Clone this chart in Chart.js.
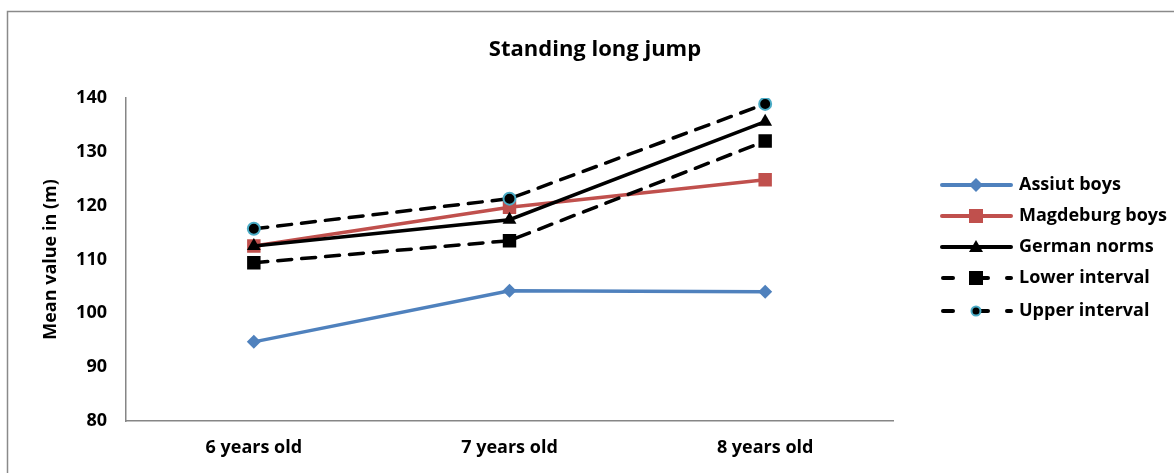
<!DOCTYPE html>
<html>
<head>
<meta charset="utf-8">
<script src="https://cdn.jsdelivr.net/npm/chart.js@4/dist/chart.umd.min.js"></script>
<style>
html,body{margin:0;padding:0;background:#fff;}
#wrap{position:relative;width:1174px;height:473px;}
</style>
</head>
<body>
<div id="wrap"><canvas id="c" width="1174" height="473"></canvas></div>
<script>
const categories = ['6 years old', '7 years old', '8 years old'];
const assiutBoys = [94.7, 104.2, 104.0];
const magdeburgBoys = [112.5, 119.7, 124.8];
const germanNorms = [112.5, 117.4, 135.6];
const lowerInterval = [109.4, 113.5, 132.0];
const upperInterval = [115.7, 121.3, 138.9];
const yTicks = [80, 90, 100, 110, 120, 130, 140];
const titleText = 'Standing long jump';
const yTitle = 'Mean value in (m)';

const FONT = '"Open Sans", "Noto Sans", sans-serif';

const datasets = [
  {label:'Assiut boys', data:assiutBoys, borderColor:'#4F81BD', backgroundColor:'#4F81BD',
   pointStyle:'rectRot', pointRadius:7, pointBorderWidth:0, borderWidth:3.5, pointBackgroundColor:'#4F81BD'},
  {label:'Magdeburg boys', data:magdeburgBoys, borderColor:'#C0504D', backgroundColor:'#C0504D',
   pointStyle:'rect', pointRadius:9.5, pointBorderWidth:0, borderWidth:3.5, pointBackgroundColor:'#C0504D'},
  {label:'German norms', data:germanNorms, borderColor:'#000', backgroundColor:'#000',
   pointStyle:'triangle', pointRadius:8, pointBorderWidth:0, borderWidth:3.5, pointBackgroundColor:'#000'},
  {label:'Lower interval', data:lowerInterval, borderColor:'#000', backgroundColor:'#000', borderDash:[14,10],
   pointStyle:'rect', pointRadius:9.5, pointBorderWidth:0, borderWidth:3.5, pointBackgroundColor:'#000'},
  {label:'Upper interval', data:upperInterval, borderColor:'#000', backgroundColor:'#000', borderDash:[14,10],
   pointStyle:'circle', pointRadius:6, pointBorderWidth:2, pointBorderColor:'#4BACC6', borderWidth:3.5, pointBackgroundColor:'#000'}
];
datasets.forEach((d, i) => { d.tension = 0; d.fill = false; d.borderCapStyle = 'round'; d.pointHoverRadius = d.pointRadius; d.order = datasets.length - i; });

const decor = {
  id:'decor',
  beforeDraw(chart){
    const ctx = chart.ctx;
    ctx.save();
    ctx.fillStyle = '#fff';
    ctx.fillRect(0,0,chart.width,chart.height);
    ctx.strokeStyle = '#8a8a8a';
    ctx.lineWidth = 1.5;
    ctx.strokeRect(7.5, 11.5, 1200, 500);
    ctx.restore();
  },
  afterDraw(chart){
    const ctx = chart.ctx;
    ctx.save();
    ctx.fillStyle = '#000';
    ctx.font = 'bold 22px ' + FONT;
    ctx.textAlign = 'center';
    ctx.textBaseline = 'middle';
    ctx.fillText(titleText, 595, 50);
    const ys = [185, 216, 247, 278, 311];
    datasets.forEach((ds, i) => {
      const y = ys[i];
      const x0 = 942, x1 = 1011, xm = 976;
      ctx.save();
      ctx.strokeStyle = ds.borderColor;
      ctx.lineWidth = 4;
      ctx.lineCap = 'round';
      if (ds.borderDash) {
        ctx.beginPath(); ctx.moveTo(943, y); ctx.lineTo(953, y); ctx.stroke();
        ctx.beginPath(); ctx.moveTo(980, y); ctx.lineTo(988, y); ctx.stroke();
        ctx.beginPath(); ctx.moveTo(1007, y); ctx.lineTo(1011, y); ctx.stroke();
      } else {
        ctx.beginPath(); ctx.moveTo(x0, y); ctx.lineTo(x1, y); ctx.stroke();
      }
      ctx.restore();
      ctx.save();
      ctx.fillStyle = ds.pointBackgroundColor;
      ctx.strokeStyle = ds.pointBorderColor || ds.pointBackgroundColor;
      ctx.lineWidth = ds.pointBorderWidth || 0;
      ctx.beginPath();
      const st = ds.pointStyle;
      if (st === 'rectRot') { ctx.moveTo(xm, y-7); ctx.lineTo(xm+7, y); ctx.lineTo(xm, y+7); ctx.lineTo(xm-7, y); ctx.closePath(); ctx.fill(); }
      else if (st === 'rect') { ctx.rect(xm-7, y-7, 14, 14); ctx.fill(); }
      else if (st === 'triangle') { ctx.moveTo(xm, y-7); ctx.lineTo(xm+7, y+5); ctx.lineTo(xm-7, y+5); ctx.closePath(); ctx.fill(); }
      else if (st === 'circle') { ctx.arc(xm, y, 4.5, 0, Math.PI*2); ctx.fill(); if (ctx.lineWidth) ctx.stroke(); }
      ctx.restore();
      ctx.fillStyle = '#000';
      ctx.font = 'bold 18px ' + FONT;
      ctx.textAlign = 'left';
      ctx.textBaseline = 'middle';
      ctx.fillText(ds.label, 1019, y);
    });
    ctx.restore();
  }
};

new Chart(document.getElementById('c'), {
  type:'line',
  data:{labels:categories, datasets:datasets},
  plugins:[decor],
  options:{
    responsive:false,
    animation:false,
    events:[],
    layout:{padding:{left:8, right:281, top:98, bottom:0}},
    plugins:{legend:{display:false}, title:{display:false}, tooltip:{enabled:false}},
    scales:{
      x:{
        offset:true,
        grid:{display:false, drawTicks:false},
        border:{display:true, color:'#868686', width:1.5},
        ticks:{color:'#000', font:{family:FONT, size:18, weight:'bold'}, padding:16},
        afterFit(s){ s.height = 52; }
      },
      y:{
        min:80, max:140,
        afterBuildTicks(s){ s.ticks = yTicks.map(v => ({value:v})); },
        grid:{display:false, drawTicks:false},
        border:{display:true, color:'#868686', width:1.5},
        ticks:{color:'#000', font:{family:FONT, size:18, weight:'bold'}, padding:19},
        title:{display:true, text:yTitle, color:'#000', font:{family:FONT, size:18, weight:'bold'}, padding:{top:32,bottom:0}},
        afterFit(s){ s.width = 118; }
      }
    }
  }
});
</script>
</body>
</html>
